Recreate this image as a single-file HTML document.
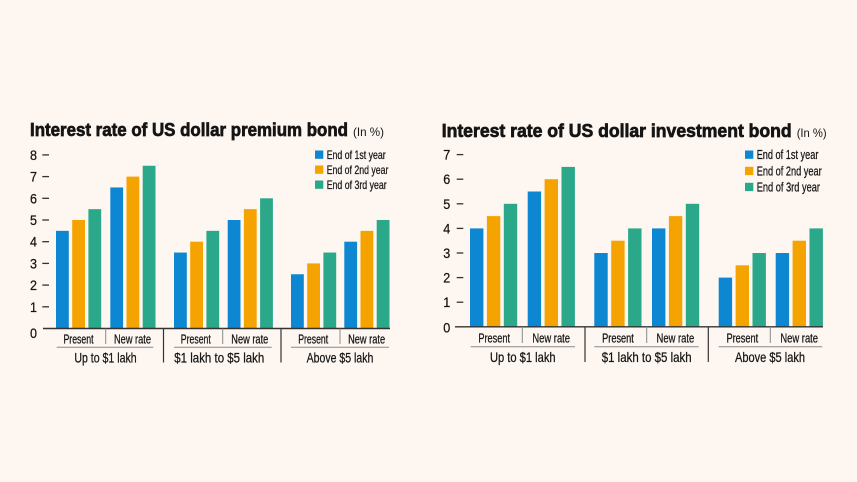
<!DOCTYPE html>
<html><head><meta charset="utf-8">
<style>
html,body{margin:0;padding:0;background:#fdf6f1;}
svg{display:block;}
text{font-family:"Liberation Sans",sans-serif;fill:#151515;}
.t{stroke:#151515;stroke-width:0.7;}
.s{stroke:#151515;stroke-width:0.25;}
</style></head>
<body>
<svg width="857" height="482" viewBox="0 0 857 482" xmlns="http://www.w3.org/2000/svg">
<rect width="857" height="482" fill="#fdf6f1"/>

<!-- LEFT CHART -->
<text class="t" x="30" y="136" font-size="18.5" font-weight="bold" textLength="318" lengthAdjust="spacingAndGlyphs">Interest rate of US dollar premium bond</text>
<text x="353" y="136" font-size="12" textLength="31" lengthAdjust="spacingAndGlyphs">(In %)</text>

<!-- legend -->
<rect x="315" y="150.5" width="8.3" height="8.3" fill="#0d87d2"/>
<rect x="315" y="165.5" width="8.3" height="8.3" fill="#f5a300"/>
<rect x="315" y="180.5" width="8.3" height="8.3" fill="#2ba88a"/>
<text class="s" x="326.7" y="159" font-size="12" textLength="59" lengthAdjust="spacingAndGlyphs">End of 1st year</text>
<text class="s" x="326.7" y="174" font-size="12" textLength="61.7" lengthAdjust="spacingAndGlyphs">End of 2nd year</text>
<text class="s" x="326.7" y="189" font-size="12" textLength="60" lengthAdjust="spacingAndGlyphs">End of 3rd year</text>

<!-- y ticks -->
<g stroke="#333" stroke-width="1.3">
<line x1="42.3" x2="49" y1="306.8" y2="306.8"/>
<line x1="42.3" x2="49" y1="285.1" y2="285.1"/>
<line x1="42.3" x2="49" y1="263.4" y2="263.4"/>
<line x1="42.3" x2="49" y1="241.7" y2="241.7"/>
<line x1="42.3" x2="49" y1="220" y2="220"/>
<line x1="42.3" x2="49" y1="198.3" y2="198.3"/>
<line x1="42.3" x2="49" y1="176.6" y2="176.6"/>
<line x1="42.3" x2="49" y1="154.9" y2="154.9"/>
</g>
<g font-size="14" class="s">
<text x="30" y="338" textLength="7" lengthAdjust="spacingAndGlyphs">0</text>
<text x="30" y="311.8" textLength="7" lengthAdjust="spacingAndGlyphs">1</text>
<text x="30" y="290.1" textLength="7" lengthAdjust="spacingAndGlyphs">2</text>
<text x="30" y="268.4" textLength="7" lengthAdjust="spacingAndGlyphs">3</text>
<text x="30" y="246.7" textLength="7" lengthAdjust="spacingAndGlyphs">4</text>
<text x="30" y="225" textLength="7" lengthAdjust="spacingAndGlyphs">5</text>
<text x="30" y="203.3" textLength="7" lengthAdjust="spacingAndGlyphs">6</text>
<text x="30" y="181.6" textLength="7" lengthAdjust="spacingAndGlyphs">7</text>
<text x="30" y="159.9" textLength="7" lengthAdjust="spacingAndGlyphs">8</text>
</g>

<!-- bars left -->
<g>
<rect x="56" y="230.85" width="12.8" height="97.65" fill="#0d87d2"/>
<rect x="72.2" y="220" width="12.8" height="108.5" fill="#f5a300"/>
<rect x="88.4" y="209.15" width="12.8" height="119.35" fill="#2ba88a"/>

<rect x="110.3" y="187.45" width="12.8" height="141.05" fill="#0d87d2"/>
<rect x="126.5" y="176.6" width="12.8" height="151.9" fill="#f5a300"/>
<rect x="142.7" y="165.75" width="12.8" height="162.75" fill="#2ba88a"/>

<rect x="174" y="252.55" width="12.8" height="75.95" fill="#0d87d2"/>
<rect x="190.2" y="241.7" width="12.8" height="86.8" fill="#f5a300"/>
<rect x="206.4" y="230.85" width="12.8" height="97.65" fill="#2ba88a"/>

<rect x="227.7" y="220" width="12.8" height="108.5" fill="#0d87d2"/>
<rect x="243.9" y="209.15" width="12.8" height="119.35" fill="#f5a300"/>
<rect x="260.1" y="198.3" width="12.8" height="130.2" fill="#2ba88a"/>

<rect x="291" y="274.25" width="12.8" height="54.25" fill="#0d87d2"/>
<rect x="307.2" y="263.4" width="12.8" height="65.1" fill="#f5a300"/>
<rect x="323.4" y="252.55" width="12.8" height="75.95" fill="#2ba88a"/>

<rect x="344.3" y="241.7" width="12.8" height="86.8" fill="#0d87d2"/>
<rect x="360.5" y="230.85" width="12.8" height="97.65" fill="#f5a300"/>
<rect x="376.7" y="220" width="12.8" height="108.5" fill="#2ba88a"/>
</g>

<!-- axis & separators left -->
<line x1="43" x2="390" y1="328.5" y2="328.5" stroke="#333" stroke-width="1.4"/>
<g stroke="#8a8a8a" stroke-width="1">
<line x1="105.7" x2="105.7" y1="328.5" y2="344"/>
<line x1="222.7" x2="222.7" y1="328.5" y2="344"/>
<line x1="340" x2="340" y1="328.5" y2="344"/>
<line x1="56.7" x2="153.3" y1="347.3" y2="347.3"/>
<line x1="174" x2="271.7" y1="347.3" y2="347.3"/>
<line x1="291" x2="389" y1="347.3" y2="347.3"/>
</g>
<g stroke="#333" stroke-width="1.2">
<line x1="163.5" x2="163.5" y1="328.5" y2="362.5"/>
<line x1="281" x2="281" y1="328.5" y2="362.5"/>
</g>
<g font-size="12.5" text-anchor="middle" class="s">
<text x="78.5" y="343.5" textLength="30" lengthAdjust="spacingAndGlyphs">Present</text>
<text x="132.5" y="343.5" textLength="37" lengthAdjust="spacingAndGlyphs">New rate</text>
<text x="195.8" y="343.5" textLength="30" lengthAdjust="spacingAndGlyphs">Present</text>
<text x="249.8" y="343.5" textLength="37" lengthAdjust="spacingAndGlyphs">New rate</text>
<text x="313.2" y="343.5" textLength="30" lengthAdjust="spacingAndGlyphs">Present</text>
<text x="366.6" y="343.5" textLength="37" lengthAdjust="spacingAndGlyphs">New rate</text>
</g>
<g font-size="14" text-anchor="middle" class="s">
<text x="105.5" y="362.5" textLength="62.3" lengthAdjust="spacingAndGlyphs">Up to $1 lakh</text>
<text x="219.3" y="362.5" textLength="90" lengthAdjust="spacingAndGlyphs">$1 lakh to $5 lakh</text>
<text x="340" y="362.5" textLength="66.7" lengthAdjust="spacingAndGlyphs">Above $5 lakh</text>
</g>

<!-- RIGHT CHART -->
<text class="t" x="441.7" y="137" font-size="18.5" font-weight="bold" textLength="350" lengthAdjust="spacingAndGlyphs">Interest rate of US dollar investment bond</text>
<text x="796.7" y="137" font-size="12" textLength="30" lengthAdjust="spacingAndGlyphs">(In %)</text>

<rect x="745" y="150.5" width="8.3" height="8.3" fill="#0d87d2"/>
<rect x="745" y="166.8" width="8.3" height="8.3" fill="#f5a300"/>
<rect x="745" y="182.8" width="8.3" height="8.3" fill="#2ba88a"/>
<text class="s" x="756.7" y="159" font-size="12.5" textLength="61.7" lengthAdjust="spacingAndGlyphs">End of 1st year</text>
<text class="s" x="756.7" y="175.3" font-size="12.5" textLength="65" lengthAdjust="spacingAndGlyphs">End of 2nd year</text>
<text class="s" x="756.7" y="191.3" font-size="12.5" textLength="63.3" lengthAdjust="spacingAndGlyphs">End of 3rd year</text>

<g stroke="#333" stroke-width="1.3">
<line x1="456.7" x2="463.3" y1="302.2" y2="302.2"/>
<line x1="456.7" x2="463.3" y1="277.6" y2="277.6"/>
<line x1="456.7" x2="463.3" y1="253" y2="253"/>
<line x1="456.7" x2="463.3" y1="228.4" y2="228.4"/>
<line x1="456.7" x2="463.3" y1="203.8" y2="203.8"/>
<line x1="456.7" x2="463.3" y1="179.2" y2="179.2"/>
<line x1="456.7" x2="463.3" y1="154.6" y2="154.6"/>
</g>
<g font-size="14" class="s">
<text x="443.3" y="332.7" textLength="7" lengthAdjust="spacingAndGlyphs">0</text>
<text x="443.3" y="307.2" textLength="7" lengthAdjust="spacingAndGlyphs">1</text>
<text x="443.3" y="282.6" textLength="7" lengthAdjust="spacingAndGlyphs">2</text>
<text x="443.3" y="258" textLength="7" lengthAdjust="spacingAndGlyphs">3</text>
<text x="443.3" y="233.4" textLength="7" lengthAdjust="spacingAndGlyphs">4</text>
<text x="443.3" y="208.8" textLength="7" lengthAdjust="spacingAndGlyphs">5</text>
<text x="443.3" y="184.2" textLength="7" lengthAdjust="spacingAndGlyphs">6</text>
<text x="443.3" y="159.6" textLength="7" lengthAdjust="spacingAndGlyphs">7</text>
</g>

<g>
<rect x="470" y="228.4" width="13.4" height="98.4" fill="#0d87d2"/>
<rect x="486.9" y="216.1" width="13.4" height="110.7" fill="#f5a300"/>
<rect x="503.8" y="203.8" width="13.4" height="123" fill="#2ba88a"/>

<rect x="527.7" y="191.5" width="13.4" height="135.3" fill="#0d87d2"/>
<rect x="544.6" y="179.2" width="13.4" height="147.6" fill="#f5a300"/>
<rect x="561.5" y="166.9" width="13.4" height="159.9" fill="#2ba88a"/>

<rect x="594.3" y="253" width="13.4" height="73.8" fill="#0d87d2"/>
<rect x="611.2" y="240.7" width="13.4" height="86.1" fill="#f5a300"/>
<rect x="628.1" y="228.4" width="13.4" height="98.4" fill="#2ba88a"/>

<rect x="652" y="228.4" width="13.4" height="98.4" fill="#0d87d2"/>
<rect x="668.9" y="216.1" width="13.4" height="110.7" fill="#f5a300"/>
<rect x="685.8" y="203.8" width="13.4" height="123" fill="#2ba88a"/>

<rect x="718.7" y="277.6" width="13.4" height="49.2" fill="#0d87d2"/>
<rect x="735.6" y="265.3" width="13.4" height="61.5" fill="#f5a300"/>
<rect x="752.5" y="253" width="13.4" height="73.8" fill="#2ba88a"/>

<rect x="775.7" y="253" width="13.4" height="73.8" fill="#0d87d2"/>
<rect x="792.6" y="240.7" width="13.4" height="86.1" fill="#f5a300"/>
<rect x="809.5" y="228.4" width="13.4" height="98.4" fill="#2ba88a"/>
</g>

<line x1="455" x2="823" y1="326.8" y2="326.8" stroke="#333" stroke-width="1.4"/>
<g stroke="#8a8a8a" stroke-width="1">
<line x1="522.3" x2="522.3" y1="326.8" y2="343"/>
<line x1="646.7" x2="646.7" y1="326.8" y2="343"/>
<line x1="770.3" x2="770.3" y1="326.8" y2="343"/>
<line x1="470.7" x2="575" y1="346.7" y2="346.7"/>
<line x1="594.3" x2="698.7" y1="346.7" y2="346.7"/>
<line x1="718.7" x2="822.3" y1="346.7" y2="346.7"/>
</g>
<g stroke="#333" stroke-width="1.2">
<line x1="585" x2="585" y1="326.8" y2="362"/>
<line x1="708.3" x2="708.3" y1="326.8" y2="362"/>
</g>
<g font-size="12.5" text-anchor="middle" class="s">
<text x="494.2" y="342.5" textLength="31.7" lengthAdjust="spacingAndGlyphs">Present</text>
<text x="551.2" y="342.5" textLength="37.7" lengthAdjust="spacingAndGlyphs">New rate</text>
<text x="618" y="342.5" textLength="31.7" lengthAdjust="spacingAndGlyphs">Present</text>
<text x="675.4" y="342.5" textLength="37.7" lengthAdjust="spacingAndGlyphs">New rate</text>
<text x="742.3" y="342.5" textLength="31.7" lengthAdjust="spacingAndGlyphs">Present</text>
<text x="799.2" y="342.5" textLength="37.7" lengthAdjust="spacingAndGlyphs">New rate</text>
</g>
<g font-size="14" text-anchor="middle" class="s">
<text x="522.8" y="362" textLength="65.7" lengthAdjust="spacingAndGlyphs">Up to $1 lakh</text>
<text x="646.7" y="362" textLength="90" lengthAdjust="spacingAndGlyphs">$1 lakh to $5 lakh</text>
<text x="770" y="362" textLength="70" lengthAdjust="spacingAndGlyphs">Above $5 lakh</text>
</g>
</svg>
</body></html>
